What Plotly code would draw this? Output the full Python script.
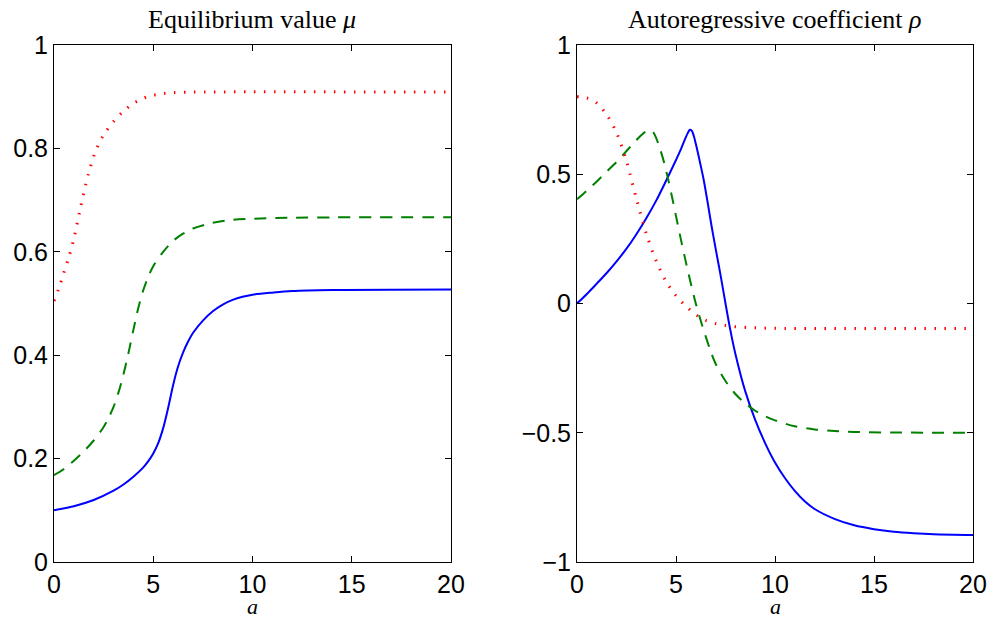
import plotly.graph_objects as go

# ---- Left panel: equilibrium value mu ----
mu_blue_x = [0, 1, 2, 3, 3.5, 4, 4.5, 4.75, 5, 5.25, 5.5, 5.75, 6, 6.25, 6.5, 6.75, 7, 7.5, 8, 8.5, 9, 9.5, 10,
             11, 12, 14, 20]
mu_blue_y = [0.10, 0.108, 0.12, 0.138, 0.15, 0.165, 0.183, 0.195, 0.21, 0.23, 0.259, 0.298, 0.342, 0.378, 0.405,
             0.426, 0.443, 0.467, 0.485, 0.498, 0.507, 0.513, 0.517, 0.521, 0.524, 0.526, 0.527]

mu_green_x = [0, 0.5, 1, 1.5, 2, 2.5, 2.75, 3, 3.25, 3.5, 3.75, 4, 4.25, 4.5, 4.75, 5, 5.5, 6, 6.5, 7, 8, 9, 10,
              12, 20]
mu_green_y = [0.168, 0.18, 0.196, 0.214, 0.235, 0.261, 0.279, 0.30, 0.328, 0.363, 0.404, 0.449, 0.492, 0.526,
              0.552, 0.572, 0.60, 0.621, 0.635, 0.645, 0.656, 0.662, 0.664, 0.666, 0.667]

mu_red_x = [0, 0.25, 0.5, 0.75, 1, 1.31, 1.75, 2.15, 2.5, 3, 3.5, 4, 4.5, 5, 5.5, 6, 7, 20]
mu_red_y = [0.505, 0.53, 0.56, 0.59, 0.625, 0.681, 0.753, 0.80, 0.826, 0.852, 0.872, 0.887, 0.897, 0.903,
            0.906, 0.908, 0.909, 0.909]

# ---- Right panel: autoregressive coefficient rho ----
rho_blue_x = [0, 0.5, 1, 1.5, 2, 2.5, 3, 3.5, 4, 4.5, 5, 5.25, 5.45, 5.6, 5.7, 5.8, 5.9, 6.0, 6.1, 6.2, 6.4,
              6.6, 6.8, 7.0, 7.25, 7.5, 7.75, 8, 8.5, 9, 9.5, 10, 10.5, 11, 11.5, 12, 13, 14, 15, 16, 17, 18, 20]
rho_blue_y = [0, 0.037, 0.077, 0.118, 0.163, 0.212, 0.268, 0.33, 0.398, 0.475, 0.555, 0.597, 0.635, 0.66,
              0.672, 0.668, 0.648, 0.618, 0.585, 0.55, 0.478, 0.39, 0.298, 0.213, 0.11, 0.0, -0.105, -0.195,
              -0.34, -0.45, -0.54, -0.615, -0.675, -0.725, -0.765, -0.795, -0.833, -0.858, -0.873, -0.883,
              -0.889, -0.893, -0.896]

rho_green_x = [0, 0.5, 1, 1.5, 2, 2.5, 3, 3.3, 3.55, 3.7, 3.85, 4.0, 4.2, 4.4, 4.6, 4.8, 5.0, 5.25, 5.5, 5.75,
               6.0, 6.25, 6.5, 6.75, 7.0, 7.5, 8, 8.5, 9, 9.5, 10, 11, 12, 13, 14, 16, 20]
rho_green_y = [0.403, 0.437, 0.472, 0.51, 0.548, 0.59, 0.632, 0.655, 0.668, 0.671, 0.663, 0.64, 0.597, 0.545,
               0.482, 0.412, 0.338, 0.247, 0.16, 0.077, 0.0, -0.067, -0.127, -0.185, -0.233, -0.30, -0.35,
               -0.386, -0.415, -0.436, -0.452, -0.475, -0.487, -0.493, -0.497, -0.499, -0.50]

rho_red_x = [0, 0.5, 1.0, 1.5, 2.0, 2.5, 3.0, 3.5, 4.0, 4.5, 5.0, 5.5, 6.0, 6.5, 7.0, 7.5, 8, 9, 10, 20]
rho_red_y = [0.80, 0.795, 0.775, 0.73, 0.66, 0.55, 0.405, 0.27, 0.165, 0.085, 0.03, -0.01, -0.043, -0.065,
             -0.078, -0.085, -0.09, -0.094, -0.096, -0.097]

x_ticks = [0, 5, 10, 15, 20]
mu_ticks = [0, 0.2, 0.4, 0.6, 0.8, 1]
rho_ticks = [-1, -0.5, 0, 0.5, 1]
titles = ["Equilibrium value <i>μ</i>", "Autoregressive coefficient <i>ρ</i>"]

BLUE, GREEN, RED = "#0000FF", "#008000", "#FF0000"

fig = go.Figure()

def add(x, y, color, dash, width, xa, ya):
    fig.add_trace(go.Scatter(x=x, y=y, mode="lines", xaxis=xa, yaxis=ya,
                             line=dict(color=color, dash=dash, width=width, shape="spline", smoothing=0.9),
                             showlegend=False, hoverinfo="skip"))

add(mu_blue_x, mu_blue_y, BLUE, "solid", 2, "x", "y")
add(mu_green_x, mu_green_y, GREEN, "12px,9px", 2, "x", "y")
add(mu_red_x, mu_red_y, RED, "1.5px,8.5px", 3, "x", "y")

add(rho_blue_x, rho_blue_y, BLUE, "solid", 2, "x2", "y2")
add(rho_green_x, rho_green_y, GREEN, "12px,9px", 2, "x2", "y2")
add(rho_red_x, rho_red_y, RED, "1.5px,8.5px", 3, "x2", "y2")

tickfont = dict(family="Liberation Sans, Arial, sans-serif", size=25, color="black")
common = dict(showline=True, linecolor="black", linewidth=1, mirror="ticks", ticks="inside",
              ticklen=6, tickcolor="black", tickwidth=1, showgrid=False, zeroline=False,
              tickfont=tickfont, automargin=False)

W, H = 990, 621
L1, R1 = 54 / W, 451 / W
L2, R2 = 577 / W, 973 / W
T, B = 1 - 45 / H, 1 - 562 / H

fig.update_layout(
    width=W, height=H, margin=dict(l=0, r=0, t=0, b=0, pad=0),
    paper_bgcolor="white", plot_bgcolor="white",
    xaxis=dict(domain=[L1, R1], range=[0, 20], tickvals=x_ticks, anchor="y", **common),
    yaxis=dict(domain=[B, T], range=[0, 1], tickvals=mu_ticks, anchor="x", **common),
    xaxis2=dict(domain=[L2, R2], range=[0, 20], tickvals=x_ticks, anchor="y2", **common),
    yaxis2=dict(domain=[B, T], range=[-1, 1], tickvals=rho_ticks, anchor="x2", **common),
)

serif = "Liberation Serif, Times New Roman, serif"
for cx, t in zip([(L1 + R1) / 2, (L2 + R2) / 2], titles):
    fig.add_annotation(text=t, x=cx, y=1 - 19 / H, xref="paper", yref="paper",
                       showarrow=False, font=dict(family=serif, size=26, color="black"),
                       xanchor="center", yanchor="middle")
    fig.add_annotation(text="<i>a</i>", x=cx, y=1 - 606 / H, xref="paper", yref="paper",
                       showarrow=False, font=dict(family=serif, size=22, color="black"),
                       xanchor="center", yanchor="middle")

fig.write_html("out.html", post_script="document.body.style.margin='0';document.body.style.overflow='hidden';")
